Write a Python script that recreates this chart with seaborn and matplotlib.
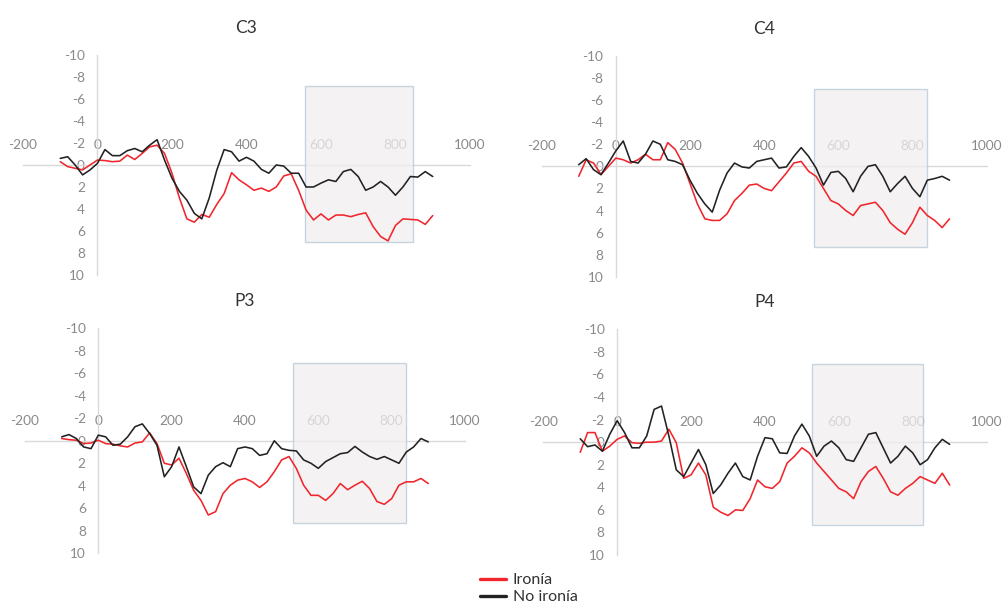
import matplotlib
matplotlib.use("Agg")
from matplotlib import pyplot as plt
from matplotlib.lines import Line2D
from matplotlib.patches import Rectangle
import pandas as pd
import seaborn as sns

# time axis (ms), shared by all channels
times = [-100, -80, -60, -40, -20, 0, 20, 40, 60, 80, 100, 120, 140, 160, 180,
         200, 220, 240, 260, 280, 300, 320, 340, 360, 380, 400, 420, 440, 460,
         480, 500, 520, 540, 560, 580, 600, 620, 640, 660, 680, 700, 720, 740,
         760, 780, 800, 820, 840, 860, 880, 900]

# amplitudes (uV)
c3_irony = [-0.3, 0.15, 0.3, 0.45, 0.0, -0.45, -0.4, -0.3, -0.35, -0.9, -0.5,
            -1.05, -1.65, -1.8, -1.05, 0.75, 3.0, 4.9, 5.2, 4.5, 4.75, 3.6,
            2.6, 0.7, 1.35, 1.8, 2.3, 2.1, 2.4, 2.0, 1.0, 0.8, 2.3, 4.1, 5.0,
            4.45, 5.0, 4.55, 4.55, 4.7, 4.5, 4.35, 5.6, 6.5, 6.9, 5.5, 4.9,
            4.95, 5.0, 5.4, 4.6]
c3_no_irony = [-0.6, -0.75, 0.0, 0.9, 0.45, -0.15, -1.4, -0.85, -0.85, -1.3,
               -1.5, -1.2, -1.8, -2.3, -0.45, 1.2, 2.4, 3.2, 4.4, 4.9, 3.0,
               0.5, -1.4, -1.2, -0.35, -0.7, -0.35, 0.4, 0.75, 0.0, 0.1, 0.75,
               0.75, 2.0, 2.0, 1.65, 1.35, 1.5, 0.6, 0.4, 1.05, 2.3, 2.0, 1.5,
               2.0, 2.75, 2.0, 1.05, 1.1, 0.6, 1.05]

c4_irony = [0.9, -0.6, -0.3, 0.75, 0.0, -0.75, -0.6, -0.3, -0.6, -1.1, -0.6,
            -0.6, -2.15, -1.55, -0.3, 1.55, 3.4, 4.75, 4.9, 4.9, 4.3, 3.1,
            2.45, 1.7, 1.6, 2.0, 2.2, 1.4, 0.6, -0.3, -0.45, 0.45, 0.9, 2.0,
            3.1, 3.4, 4.0, 4.45, 3.55, 3.4, 3.25, 4.0, 5.1, 5.7, 6.15, 5.1,
            3.7, 4.45, 4.9, 5.55, 4.75]
c4_no_irony = [-0.15, -0.7, 0.3, 0.75, -0.3, -1.4, -2.3, -0.45, -0.3, -1.1,
               -2.3, -2.0, -0.6, -0.45, -0.15, 1.25, 2.45, 3.4, 4.15, 2.15,
               0.6, -0.3, 0.05, 0.15, -0.45, -0.6, -0.75, 0.15, 0.05, -0.9,
               -1.7, -0.9, 0.15, 1.7, 0.55, 0.45, 1.1, 2.3, 0.9, 0.0, -0.15,
               0.9, 2.3, 1.55, 0.9, 2.0, 2.75, 1.25, 1.1, 0.9, 1.25]

p3_irony = [-0.2, -0.1, -0.05, 0.25, 0.2, -0.05, 0.25, 0.3, 0.45, 0.55, 0.2,
            0.1, -0.7, 0.25, 2.0, 2.15, 1.55, 2.9, 4.4, 5.3, 6.6, 6.3, 4.7,
            3.95, 3.5, 3.35, 3.65, 4.15, 3.65, 2.75, 1.7, 1.4, 2.45, 3.95,
            4.85, 4.85, 5.3, 4.7, 3.8, 4.35, 3.95, 3.6, 4.25, 5.4, 5.65, 5.15,
            3.95, 3.65, 3.65, 3.35, 3.8]
p3_no_irony = [-0.35, -0.55, -0.2, 0.55, 0.7, -0.5, -0.35, 0.4, 0.3, -0.35,
               -1.25, -1.5, -0.65, 0.4, 3.2, 2.3, 0.55, 2.3, 4.1, 4.7, 3.05,
               2.3, 1.95, 2.3, 0.7, 0.55, 0.7, 1.3, 1.15, 0.0, 0.7, 0.85, 0.9,
               1.7, 2.0, 2.45, 1.85, 1.5, 1.15, 1.05, 0.5, 1.0, 1.4, 1.65, 1.4,
               1.7, 2.0, 1.0, 0.55, -0.2, 0.1]

p4_irony = [0.9, -0.85, -0.85, 0.8, 0.35, -0.25, -0.55, 0.05, 0.1, 0.0, 0.0,
            -0.1, -1.15, 0.05, 3.2, 2.9, 1.85, 2.9, 5.75, 6.2, 6.5, 6.0, 6.05,
            5.0, 3.35, 3.95, 4.1, 3.5, 1.85, 1.25, 0.5, 0.95, 1.85, 2.6, 3.35,
            4.1, 4.4, 5.0, 3.5, 2.6, 2.15, 3.2, 4.4, 4.7, 4.1, 3.65, 3.05,
            3.35, 3.65, 2.75, 3.8]
p4_no_irony = [-0.3, 0.4, 0.25, 0.8, -0.7, -1.9, -0.85, 0.5, 0.5, -0.55,
               -2.9, -3.2, -0.55, 2.45, 3.05, 1.85, 0.65, 2.0, 4.55, 3.8, 2.75,
               1.85, 3.05, 3.35, 1.25, -0.4, -0.3, 0.95, 1.0, -0.55, -1.6,
               -0.55, 1.25, 0.35, -0.1, 0.5, 1.55, 1.7, 0.5, -0.7, -0.85, 0.5,
               1.85, 1.25, 0.35, 0.95, 2.0, 1.55, 0.5, -0.25, 0.2]

channels = ["C3", "C4", "P3", "P4"]
irony = [c3_irony, c4_irony, p3_irony, p4_irony]
no_irony = [c3_no_irony, c4_no_irony, p3_no_irony, p4_no_irony]
# analysis window per channel: (start ms, end ms, top uV, bottom uV)
windows = [(558, 848, -7.2, 7.0), (534, 838, -7.0, 7.3),
           (532, 839, -6.9, 7.3), (528, 828, -6.9, 7.3)]

labels = ["Ironía", "No ironía"]
colors = {"Ironía": "#f0262c", "No ironía": "#222222"}

sns.set_theme(style="white")
plt.rcParams["font.family"] = ["Lato", "DejaVu Sans"]
plt.rcParams["axes.unicode_minus"] = False

fig = plt.figure(figsize=(10.04, 6.05), dpi=100)
# axes rectangles in figure fraction
rects = [(0.0229, 0.5455, 0.4452, 0.3636), (0.5395, 0.5426, 0.4432, 0.3648),
         (0.0249, 0.0855, 0.4382, 0.3719), (0.5411, 0.0826, 0.4416, 0.3731)]

axis_grey = "#d9d9d9"
for name, red, black, win, rect in zip(channels, irony, no_irony, windows, rects):
    ax = fig.add_axes(rect)
    df = pd.DataFrame({
        "time": times * 2,
        "uv": red + black,
        "cond": [labels[0]] * len(times) + [labels[1]] * len(times),
    })
    sns.lineplot(data=df, x="time", y="uv", hue="cond", palette=colors,
                 legend=False, ax=ax, lw=1.15, zorder=4)

    x0, x1, y0, y1 = win
    ax.add_patch(Rectangle((x0, y0), x1 - x0, y1 - y0, facecolor="#f1eeef",
                           alpha=0.75, edgecolor="#b7c9d7", lw=1.0, zorder=3))

    ax.set_xlim(-200, 1000)
    ax.set_ylim(10, -10)
    ax.set_xticks(range(-200, 1001, 200))
    ax.set_yticks(range(-10, 11, 2))
    ax.set_xlabel("")
    ax.set_ylabel("")
    ax.xaxis.tick_top()
    ax.spines["top"].set_position(("data", 0))
    ax.spines["left"].set_position(("data", 0))
    ax.spines["bottom"].set_visible(False)
    ax.spines["right"].set_visible(False)
    for s in ("top", "left"):
        ax.spines[s].set_color(axis_grey)
        ax.spines[s].set_linewidth(1.0)
    ax.tick_params(axis="x", length=0, pad=10, labelsize=9.8, labelcolor="#8a8a8a")
    ax.tick_params(axis="y", length=0, pad=9, labelsize=9.8, labelcolor="#8a8a8a")
    ax.patch.set_alpha(0)
    ax.set_title(name, fontsize=12.5, color="#333333", pad=16)

handles = [Line2D([], [], color=colors[l], lw=2.4) for l in labels]
fig.legend(handles, labels, loc="upper left", bbox_to_anchor=(0.478, 0.053),
           frameon=False, fontsize=11.5, borderpad=0, borderaxespad=0,
           handlelength=1.65, handletextpad=0.4, labelspacing=0.2,
           labelcolor="#333333")

fig.savefig("out.png", dpi=100)
